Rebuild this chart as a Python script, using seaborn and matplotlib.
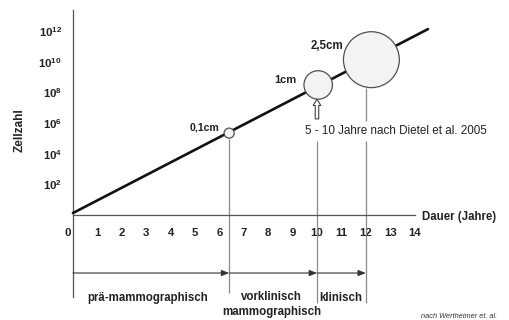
import numpy as np
import pandas as pd
import matplotlib
matplotlib.use("Agg")
import matplotlib.pyplot as plt
import seaborn as sns

# ---- data ----
line_years = [0.0, 14.55]
line_cells = [10**0.13, 10**12.15]

tumor_labels = ["0,1cm", "1cm", "2,5cm"]
tumor_years = [6.4, 10.05, 12.23]
tumor_cells = [10**5.35, 10**8.5, 10**10.15]
tumor_sizes = [52, 420, 1620]

phase_bounds = [0.0, 6.4, 10.0, 12.0]
phase_labels = ["prä-mammographisch", "vorklinisch\nmammographisch", "klinisch"]

x_ticks = list(range(1, 15))
y_exponents = [2, 4, 6, 8, 10, 12]

sns.set_style("white")
plt.rcParams["font.family"] = ["Liberation Sans", "DejaVu Sans"]
plt.rcParams["mathtext.fontset"] = "custom"
plt.rcParams["mathtext.rm"] = "Liberation Sans"
plt.rcParams["mathtext.bf"] = "Liberation Sans:bold"

fig = plt.figure(figsize=(5.1, 3.2), dpi=100)
ax = fig.add_axes([0, 0, 1, 1])
ax.set_yscale("log")
ax.set_xlim(-2.99, 17.91)
ax.set_ylim(10**-6.86, 10**14.05)

axis_col = "#555555"
vcol = "#8a8a8a"

# main growth line
df_line = pd.DataFrame({"Jahre": line_years, "Zellen": line_cells})
sns.lineplot(data=df_line, x="Jahre", y="Zellen", ax=ax, color="#111111", lw=1.9, zorder=3)

# tumours
df_t = pd.DataFrame({"Jahre": tumor_years, "Zellen": tumor_cells, "s": tumor_sizes})
ax.scatter(df_t["Jahre"], df_t["Zellen"], s=df_t["s"], facecolor="#f3f3f3",
           edgecolor="#505050", linewidth=0.9, zorder=4)

# label positions (offsets in years / decades)
lab_pos = [(5.98, 10**5.75), (9.18, 10**8.82), (11.07, 10**11.05)]
lab_sizes = [7.6, 8, 8.3]
for (lx, ly), t, fs in zip(lab_pos, tumor_labels, lab_sizes):
    ax.text(lx, ly, t, ha="right", va="center", fontsize=fs, fontweight="bold", color="#222222")

# vertical phase lines
ax.vlines(phase_bounds[1], 10**-5.1, 10**4.97, color=vcol, lw=0.9, zorder=1)
ax.vlines(phase_bounds[2], 10**-5.75, 10**4.84, color=vcol, lw=0.9, zorder=1)
ax.vlines(phase_bounds[3], 10**-5.75, 10**4.84, color=vcol, lw=0.9, zorder=1)
ax.vlines(phase_bounds[3], 10**6.14, 10**8.3, color=vcol, lw=0.9, zorder=1)

# hollow arrow under 1cm tumour
ax.annotate("", xy=(phase_bounds[2], 10**7.75), xytext=(phase_bounds[2], 10**6.1),
            arrowprops=dict(arrowstyle="simple,head_width=0.55,head_length=0.45,tail_width=0.25",
                            fc="white", ec="#444444", lw=0.8), zorder=5)
ax.text(9.51, 10**5.49, "5 - 10 Jahre nach Dietel et al. 2005", ha="left", va="center",
        fontsize=8.4, color="#222222")

# phase arrows
y_arr = 10**-3.79
for a, b in zip(phase_bounds[:-1], phase_bounds[1:]):
    ax.annotate("", xy=(b, y_arr), xytext=(a, y_arr),
                arrowprops=dict(arrowstyle="-|>,head_width=0.18,head_length=0.45",
                                color="#333333", lw=0.8, shrinkA=0, shrinkB=0))

# phase labels
lab_x = [3.05, 8.15, 10.98]
for x, t in zip(lab_x, phase_labels):
    ax.text(x, 10**-5.42, t, ha="center", va="center" if "\n" not in t else "top",
            fontsize=8.3, fontweight="bold", color="#222222", linespacing=1.35)
# adjust multi-line label: top at first row
ax.texts[-2].set_y(10**-4.98)

# axes spines
for s in ["top", "right"]:
    ax.spines[s].set_visible(False)
ax.spines["left"].set_position(("data", 0))
ax.spines["left"].set_bounds(10**-5.36, 10**13.4)
ax.spines["bottom"].set_position(("data", 1))
ax.spines["bottom"].set_bounds(0, 14)
for s in ["left", "bottom"]:
    ax.spines[s].set_color(axis_col)
    ax.spines[s].set_linewidth(0.9)

ax.set_xticks(x_ticks)
ax.set_xticklabels([str(v) for v in x_ticks], fontsize=8.2, fontweight="bold", color="#222222")
ax.set_yticks([10.0**e for e in y_exponents])
ax.set_yticklabels([r"$\mathbf{10^{%d}}$" % e for e in y_exponents], fontsize=8.2, color="#222222")
ax.yaxis.set_minor_locator(matplotlib.ticker.NullLocator())
ax.tick_params(axis="x", direction="out", length=6, width=0.9, color=axis_col, pad=3.5)
ax.tick_params(axis="y", direction="out", length=6, width=0.9, color=axis_col, pad=2)
ax.set_xlabel("")
ax.set_ylabel("")

ax.text(-0.2, 10**-1.18, "0", ha="center", va="center", fontsize=8.2, fontweight="bold", color="#222222")
ax.text(14.3, 10**-0.13, "Dauer (Jahre)", ha="left", va="center", fontsize=8.3,
        fontweight="bold", color="#222222")
ax.text(-2.17, 10**5.56, "Zellzahl", ha="center", va="center", rotation=90,
        fontsize=8.5, fontweight="bold", color="#222222")
ax.text(17.38, 10**-6.6, "nach Wertheimer et. al.", ha="right", va="center",
        fontsize=5.3, style="italic", color="#333333")

fig.savefig("out.png", dpi=100, facecolor="white")
